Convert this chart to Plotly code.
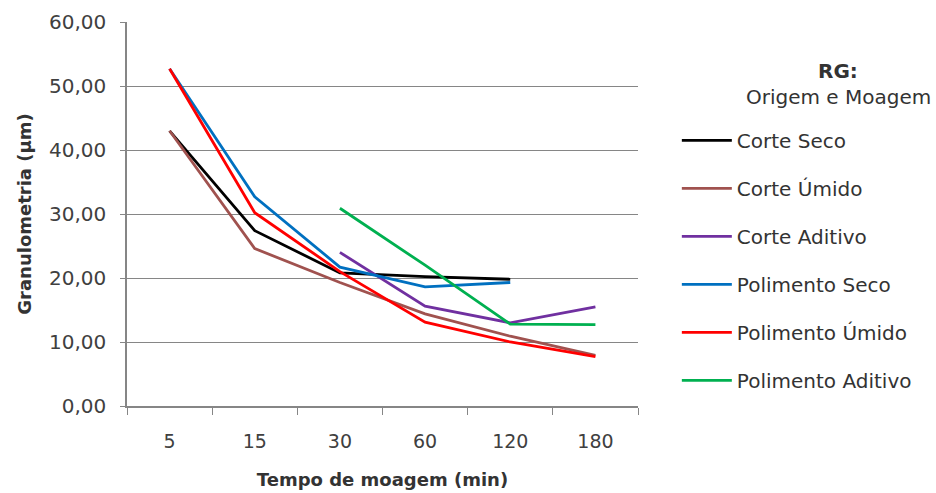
import plotly.graph_objects as go

categories = ["5", "15", "30", "60", "120", "180"]
corte_seco = [43.0, 27.4, 20.8, 20.2, 19.8, None]
corte_umido = [43.0, 24.6, 19.3, 14.4, 10.9, 7.9]
corte_aditivo = [None, None, 24.0, 15.6, 13.0, 15.5]
polimento_seco = [52.7, 32.7, 21.7, 18.6, 19.3, None]
polimento_umido = [52.7, 30.2, 21.0, 13.1, 10.0, 7.7]
polimento_aditivo = [None, None, 30.9, 22.0, 12.8, 12.7]

series = [
    ("Corte Seco", corte_seco, "#000000"),
    ("Corte Úmido", corte_umido, "#A0524F"),
    ("Corte Aditivo", corte_aditivo, "#7030A0"),
    ("Polimento Seco", polimento_seco, "#0070C0"),
    ("Polimento Úmido", polimento_umido, "#FF0000"),
    ("Polimento Aditivo", polimento_aditivo, "#00B050"),
]

fig = go.Figure()
for i, (name, vals, color) in enumerate(series):
    fig.add_trace(go.Scatter(
        x=categories, y=vals, name=name, mode="lines",
        line=dict(color=color, width=2.8),
        legendgroup=str(i),
    ))

# plot area in pixels
L, R, T, B, W, H = 127, 298, 22, 87, 936, 493
pw, ph = W - L - R, H - T - B

font = "DejaVu Sans, Verdana, sans-serif"
fig.update_layout(
    width=W, height=H,
    margin=dict(l=L, r=R, t=T, b=B, autoexpand=False),
    paper_bgcolor="white", plot_bgcolor="white",
    separators=",.",
    font=dict(family=font, size=19, color="#404040"),
    showlegend=True,
    legend=dict(
        x=1.076, y=0.7426, xanchor="left", yanchor="top",
        font=dict(size=20, color="#333333"),
        itemwidth=50,
        tracegroupgap=19,
        bgcolor="rgba(0,0,0,0)",
    ),
    xaxis=dict(
        type="category", automargin=False,
        showgrid=False,
        showline=True, linecolor="#868686", linewidth=1.5,
        ticks="outside", tickson="boundaries", ticklen=7, tickcolor="#868686",
        tickfont=dict(size=19, color="#404040"),
        ticklabelstandoff=17,
        title=dict(text="<b>Tempo de moagem (min)</b>", font=dict(size=18, color="#333333"), standoff=23),
        range=[-0.5, 5.5],
    ),
    yaxis=dict(
        automargin=False,
        range=[0, 60], dtick=10, tickformat=".2f",
        showgrid=True, gridcolor="#868686", gridwidth=1.2,
        showline=True, linecolor="#868686", linewidth=1.5,
        ticks="outside", ticklen=5, tickcolor="#868686",
        tickfont=dict(size=20, color="#404040"),
        ticklabelstandoff=10,
        title=dict(text="<b>Granulometria (µm)</b>", font=dict(size=18, color="#333333"), standoff=13),
        zeroline=False,
    ),
    annotations=[
        dict(text="<b>RG:</b>", x=(838 - L) / pw, y=(H - 71 - B) / ph,
             xref="paper", yref="paper", xanchor="center", yanchor="middle",
             showarrow=False, font=dict(size=20, color="#333333")),
        dict(text="Origem e Moagem", x=(838 - L) / pw, y=(H - 97 - B) / ph,
             xref="paper", yref="paper", xanchor="center", yanchor="middle",
             showarrow=False, font=dict(size=20, color="#333333")),
    ],
)

fig.write_html("out.html")
